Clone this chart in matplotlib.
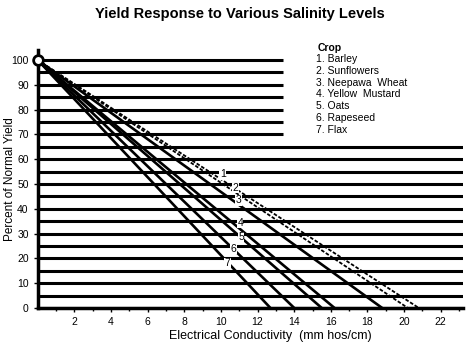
import matplotlib.pyplot as plt
import numpy as np

# culturas e condutividade onde o rendimento chega a zero
culturas = ["Barley", "Sunflowers", "Neepawa  Wheat", "Yellow  Mustard", "Oats", "Rapeseed", "Flax"]
ec_zero = [20.8, 20.2, 18.8, 16.2, 15.5, 14.0, 12.7]
# posição dos números 1-7 junto das linhas
rotulo_x = [10.1, 10.8, 10.95, 11.05, 11.1, 10.7, 10.35]
rotulo_y = [54.0, 48.4, 43.5, 34.3, 28.6, 23.8, 18.1]

# linhas horizontais a cada 5%; as de cima param antes da legenda
grade_y = list(range(0, 101, 5))
grade_curta = [70, 75, 80, 85, 90, 95, 100]

plt.rcParams['font.family'] = ['Liberation Sans', 'DejaVu Sans']

fig = plt.figure(figsize=(4.66, 3.46), dpi=100)
ax = fig.add_axes([0.081, 0.110, 0.912, 0.745])
ax.set_xlim(0, 23.2)
ax.set_ylim(0, 104)

for y in grade_y:
    xmax = 13.4 if y in grade_curta else 23.2
    ax.plot([0, xmax], [y, y], color="black", lw=2.2, solid_capstyle="butt", zorder=1)

for i, ec in enumerate(ec_zero):
    if i < 2:
        ax.plot([0, ec], [100, 0], color="black", lw=1.3, linestyle=(0, (2, 1)), zorder=2)
    else:
        ax.plot([0, ec], [100, 0], color="black", lw=1.9, zorder=2)
    ax.text(rotulo_x[i], rotulo_y[i], str(i + 1), fontsize=7.5, ha="center", va="center",
            bbox=dict(facecolor="white", edgecolor="none", pad=0.3), zorder=3)

ax.plot([0], [100], marker="o", markersize=7, markerfacecolor="white",
        markeredgecolor="black", markeredgewidth=2, clip_on=False, zorder=4)

# legenda em texto
ax.text(15.3, 105.0, "Crop", fontsize=7.5, fontweight="bold", ha="left", va="center")
for i, nome in enumerate(culturas):
    ax.text(15.2, 100.4 - i * 4.75, f"{i + 1}. {nome}", fontsize=7.5, ha="left", va="center")

for lado in ["top", "right"]:
    ax.spines[lado].set_visible(False)
ax.spines["left"].set_linewidth(2.5)
ax.spines["bottom"].set_linewidth(2.5)

ax.set_xticks(range(2, 23, 2))
ax.set_xticks(range(1, 24), minor=True)
ax.set_yticks(range(0, 101, 10))
ax.tick_params(axis="both", labelsize=7.5, length=3, width=1)
ax.tick_params(axis="x", which="minor", length=2, width=1)

ax.set_xlabel("Electrical Conductivity  (mm hos/cm)", fontsize=9)
ax.xaxis.set_label_coords(0.547, -0.085)
ax.set_ylabel("Percent of Normal Yield", fontsize=8.5)
ax.yaxis.set_label_coords(-0.05, 0.5)
fig.suptitle("Yield Response to Various Salinity Levels", fontsize=10.5, fontweight="bold",
             x=0.515, y=0.98)

fig.savefig("out.png", dpi=100)
